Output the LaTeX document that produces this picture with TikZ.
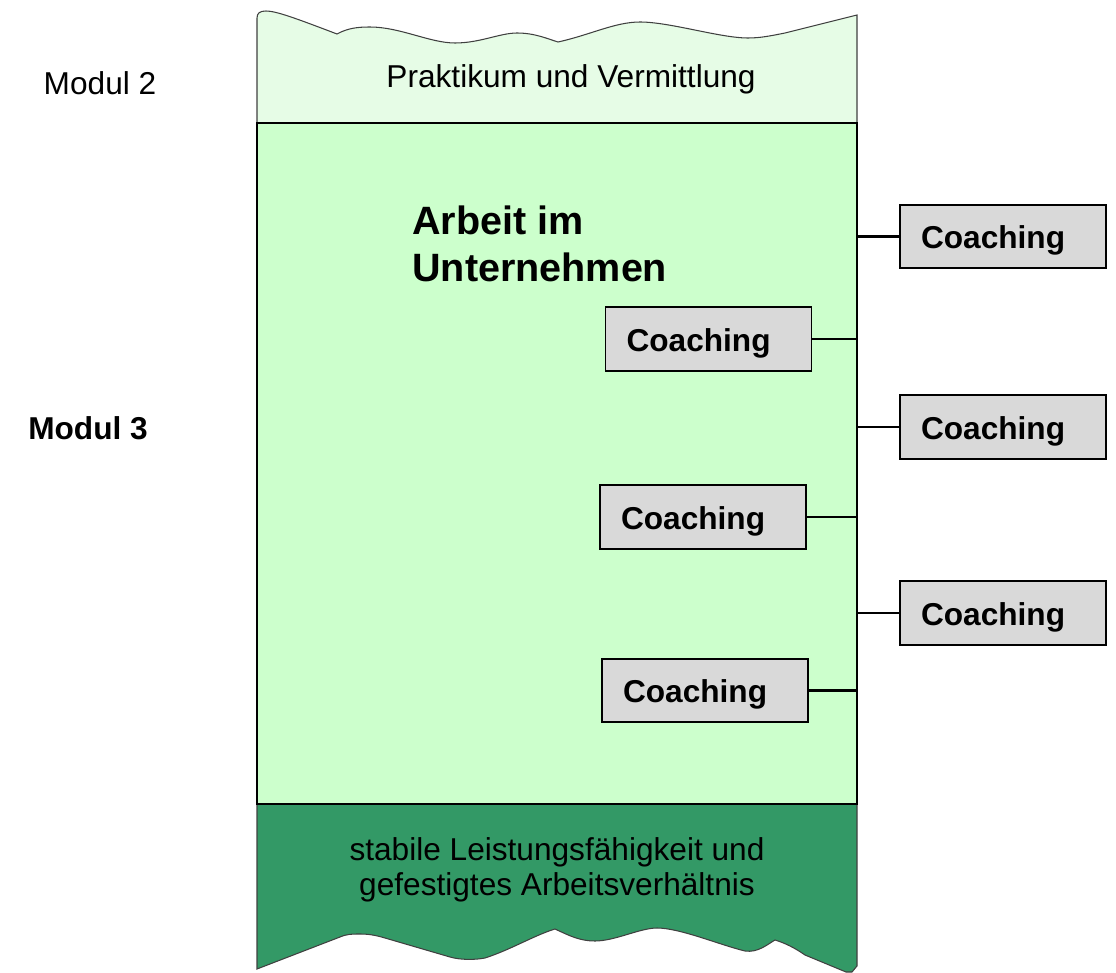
\documentclass[tikz,border=0pt]{standalone}
\usepackage{fontspec}
\setmainfont{Liberation Sans}
\usetikzlibrary{positioning}
\definecolor{hellgruen}{HTML}{E6FCE6}
\definecolor{mittelgruen}{HTML}{CCFFCC}
\definecolor{dunkelgruen}{HTML}{339966}
\definecolor{grau}{HTML}{D9D9D9}

\begin{document}
\begin{tikzpicture}[x=0.02cm,y=-0.02cm]
  \tikzset{coachbox/.style={draw,line width=1.1pt,fill=grau,align=left,
      font=\fontsize{18}{21}\selectfont\bfseries,text height=14pt,text depth=0pt,
      text width=3.28cm,inner xsep=0.42cm,minimum height=1.27cm},
    band/.style={draw=black!75,line width=0.6pt},
    modtext/.style={font=\fontsize{18}{21}\selectfont}}
  \useasboundingbox (0,0) rectangle (1116,973);
  % Modul 2
  \draw[band,fill=hellgruen] (257,123) -- (257,18)
    .. controls (257,13) and (260,11) .. (266,11)
    .. controls (276,11) and (295,18) .. (337,34)
    .. controls (348,28) and (358,27) .. (370,27)
    .. controls (400,27) and (430,43) .. (455,43)
    .. controls (480,43) and (500,33) .. (517,33)
    .. controls (535,33) and (548,39) .. (558,42)
    .. controls (590,35) and (615,22) .. (640,22)
    .. controls (670,22) and (720,38) .. (748,38)
    .. controls (760,38) and (770,36) .. (785,33)
    -- (857,15) -- (857,123);
  % Ziel
  \draw[band,fill=dunkelgruen] (257,804) -- (257,969) -- (340,937)
    .. controls (347,934) and (352,934) .. (360,934)
    .. controls (368,934) and (375,935) .. (385,938)
    -- (450,957)
    .. controls (460,960) and (475,960) .. (485,958)
    .. controls (510,950) and (535,935) .. (555,929)
    .. controls (570,936) and (580,941) .. (595,941)
    .. controls (615,941) and (640,928) .. (657,928)
    .. controls (680,928) and (720,945) .. (745,951)
    .. controls (758,953) and (768,944) .. (775,940)
    .. controls (785,943) and (795,948) .. (805,955)
    -- (846,972) -- (852,972) -- (857,966) -- (857,804);
  % Modul 3
  \node[draw,line width=1.1pt,fill=mittelgruen,minimum width=12cm,minimum height=13.62cm,inner sep=0] (arbeit) at (557,463.5) {};
  \node[font=\fontsize{22.5}{27}\selectfont\bfseries,align=left,anchor=west,inner sep=0] (titel) at (412,244) {Arbeit im\\Unternehmen};
  \node[modtext] (praktikum) at (571,79) {Praktikum und Vermittlung};
  \node[modtext,align=center] (ziel) at (557,870) {stabile Leistungsfähigkeit und\\[-1pt]gefestigtes Arbeitsverhältnis};
  \node[modtext] (modul2) at (100,83) {Modul 2};
  \node[modtext,font=\fontsize{18}{21}\selectfont\bfseries] (modul3) at (88,428) {Modul 3};
  % Coaching
  \node[coachbox] (c1) at (1003,236.5) {Coaching};
  \node[coachbox] (c2) at (708.5,339) {Coaching};
  \node[coachbox] (c3) at (1003,427) {Coaching};
  \node[coachbox] (c4) at (703,517) {Coaching};
  \node[coachbox] (c5) at (1003,613) {Coaching};
  \node[coachbox] (c6) at (705,690.5) {Coaching};
  \foreach \c in {c1,c3,c5}
    \draw[line width=1.2pt] (\c.west) -- (\c.west -| arbeit.east);
  \foreach \c in {c2,c4,c6}
    \draw[line width=1.2pt] (\c.east) -- (\c.east -| arbeit.east);
\end{tikzpicture}
\end{document}
